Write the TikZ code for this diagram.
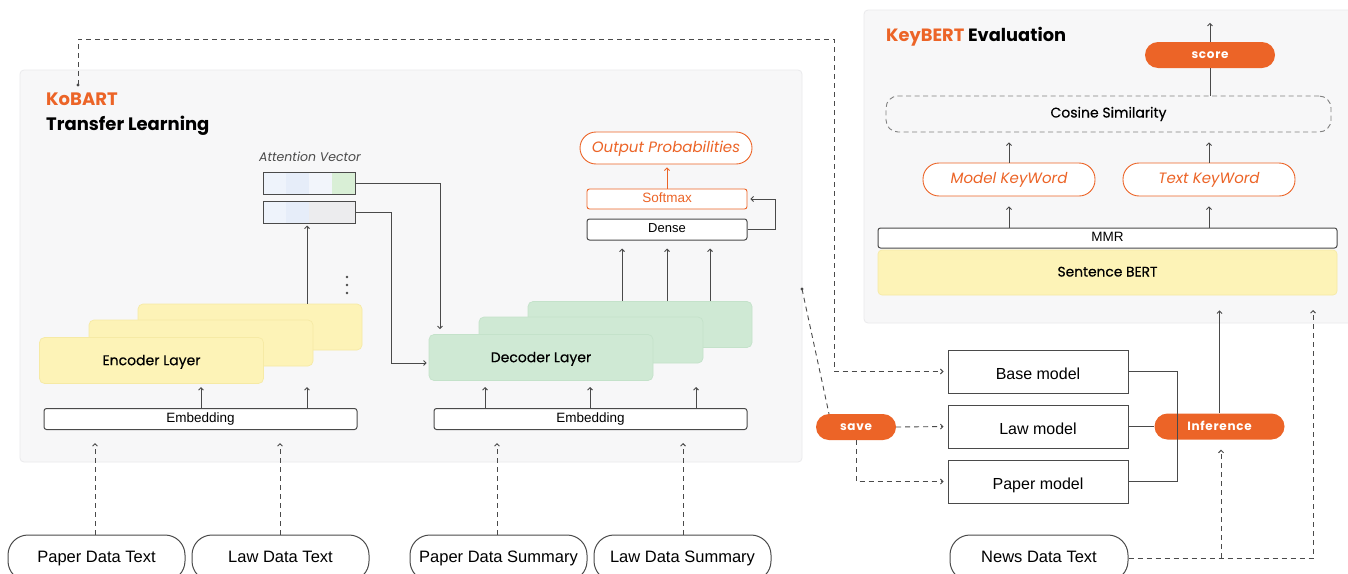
\documentclass[tikz,border=0pt]{standalone}
\usepackage{fontspec}
\setmainfont{Liberation Sans}
\newfontfamily\pop{Poppins}
\newfontfamily\popm[FakeBold=0.45]{Poppins}
\usetikzlibrary{arrows.meta,calc}
\definecolor{org}{HTML}{EC6427}
\definecolor{dk}{HTML}{4A4A4A}
\definecolor{panelfill}{HTML}{F7F7F8}
\definecolor{panelborder}{HTML}{EAEAEC}
\definecolor{encfill}{HTML}{FDF3B7}
\definecolor{encborder}{HTML}{F6EAA5}
\definecolor{decfill}{HTML}{CFE9D4}
\definecolor{decborder}{HTML}{C4E2CA}
\definecolor{ca}{HTML}{EEF3FB}
\definecolor{cb}{HTML}{E6EDF9}
\definecolor{cc}{HTML}{F2F5FB}
\definecolor{cd}{HTML}{D9EFD6}
\definecolor{ce}{HTML}{ECECEE}
\tikzset{
  panel/.style={draw=panelborder, fill=panelfill, rounded corners=4pt, line width=0.8pt, inner sep=0},
  enclayer/.style={fill=encfill, draw=encborder, rounded corners=5pt, minimum width=224pt, minimum height=46pt, inner sep=0, line width=0.7pt, font=\popm\fontsize{14}{16}\selectfont, text depth=1pt},
  declayer/.style={fill=decfill, draw=decborder, rounded corners=5pt, minimum width=224pt, minimum height=46pt, inner sep=0, line width=0.7pt, font=\popm\fontsize{14}{16}\selectfont, text depth=1pt},
  wbox/.style={draw=dk, fill=white, rounded corners=2.5pt, line width=1pt, inner sep=0, text height=9pt, text depth=2.5pt},
  modelbox/.style={draw=dk, fill=white, line width=1pt, inner sep=0, minimum width=180pt, minimum height=43pt, font=\fontsize{16}{18}\selectfont, text height=15pt, text depth=0pt},
  inpill/.style={draw=dk, fill=white, line width=1pt, inner sep=0, rounded corners=20pt, minimum width=177pt, minimum height=46pt, font=\fontsize{16.5}{19}\selectfont, text height=12pt, text depth=3.5pt},
  opill/.style={draw=org, fill=white, line width=0.9pt, inner sep=0, rounded corners=16pt, text=org, font=\pop\itshape\fontsize{15}{18}\selectfont, text height=11pt, text depth=3pt},
  fpill/.style={fill=org, inner sep=0, rounded corners=13pt, minimum height=26pt, text=white, font=\pop\bfseries\fontsize{12}{14}\selectfont\addfontfeatures{LetterSpace=6}, text height=9pt, text depth=2pt},
  arr/.style={draw=dk, line width=0.9pt, -{Straight Barb[length=2.5pt,width=5pt]}},
  dsh/.style={draw=dk, line width=0.9pt, dash pattern=on 5pt off 4pt},
}
\begin{document}
\begin{tikzpicture}[x=1pt,y=-1pt]
\useasboundingbox (0,0) rectangle (1348,573);
\clip (0,0) rectangle (1348,573);
\fill[white] (0,0) rectangle (1348,573);

% panels
\node[panel, minimum width=782pt, minimum height=392pt] (lp) at (411,266) {};
\node[panel, minimum width=490pt, minimum height=313pt] (rp) at (1109,166.5) {};

% titles
\node[anchor=west, inner sep=0, font=\pop\bfseries\fontsize{18}{20}\selectfont, text=org] (kobart) at (46,99) {KoBART};
\node[anchor=west, inner sep=0, font=\pop\bfseries\fontsize{18}{20}\selectfont] (tl) at (46,126) {Transfer Learning};
\node[anchor=west, inner sep=0, font=\pop\bfseries\fontsize{17.8}{20}\selectfont] (kbt) at (886,37) {\textcolor{org}{KeyBERT} Evaluation};

% encoder stack
\node[enclayer] (enc3) at (250,327) {};
\node[enclayer] (enc2) at (201,343) {};
\node[enclayer] (enc1) at (151.5,360.5) {Encoder Layer};
\fill[dk] (347,277) circle (1.4pt) (347,285) circle (1.4pt) (347,293) circle (1.4pt);

% decoder stack
\node[declayer] (dec3) at (640,324.5) {};
\node[declayer] (dec2) at (591,340) {};
\node[declayer] (dec1) at (541,357.5) {Decoder Layer};

% embeddings
\node[wbox, minimum width=313pt, minimum height=21pt, font=\fontsize{13.5}{15}\selectfont] (embL) at (200.5,419) {Embedding};
\node[wbox, minimum width=313pt, minimum height=21pt, font=\fontsize{13.5}{15}\selectfont] (embR) at (590.5,419) {Embedding};

% attention vectors
\fill[ca] (263,172) rectangle (286,194);
\fill[cb] (286,172) rectangle (309,194);
\fill[cc] (309,172) rectangle (332,194);
\fill[cd] (332,172) rectangle (355,194);
\fill[ca] (263,201) rectangle (286,223);
\fill[cb] (286,201) rectangle (309,223);
\fill[ce] (309,201) rectangle (355,223);
\node[draw=dk, line width=1pt, minimum width=92pt, minimum height=22pt, inner sep=0] (av1) at (309,183) {};
\node[draw=dk, line width=1pt, minimum width=92pt, minimum height=22pt, inner sep=0] (av2) at (309,212) {};
\node[font=\pop\itshape\fontsize{12.5}{14}\selectfont, text=dk, inner sep=0] (avl) at (310,157) {Attention Vector};

% dense / softmax / output
\node[wbox, minimum width=160pt, minimum height=21pt, font=\fontsize{13}{15}\selectfont] (dense) at (667,229.5) {Dense};
\node[draw=org, fill=white, rounded corners=2.5pt, line width=0.9pt, inner sep=0, minimum width=160pt, minimum height=20pt, text=org, font=\fontsize{13.5}{15}\selectfont, text height=9.5pt, text depth=2.5pt] (softmax) at (667,199) {Softmax};
\node[opill, minimum width=172pt, minimum height=32pt] (outp) at (666,148) {Output Probabilities};

% connectors left
\draw[arr] (embL.north -| 201,0) -- ++(0,-21);
\draw[arr] (embL.north -| 307,0) -- ++(0,-21);
\draw[arr] (embR.north -| 485,0) -- ++(0,-21);
\draw[arr] (embR.north -| 590,0) -- ++(0,-21);
\draw[arr] (embR.north -| 696,0) -- ++(0,-21);
\draw[arr, shorten >=2pt] (enc3.north -| 307,0) -- (av2.south -| 307,0);
\draw[arr, shorten >=5pt] (av1.east) -| (dec1.north -| 440,0);
\draw[arr, shorten >=2pt] (av2.east) -- (391,212) |- ([yshift=-5.5pt]dec1.west);
\draw[arr, shorten >=8pt] (dec3.north -| 622,0) -- (dense.south -| 622,0);
\draw[arr, shorten >=8pt] (dec3.north -| 667,0) -- (dense.south -| 667,0);
\draw[arr, shorten >=8pt] (dec3.north -| 710,0) -- (dense.south -| 710,0);
\draw[arr, shorten >=3pt] (dense.east) -- ++(28,0) |- (softmax.east);
\draw[arr, draw=org, shorten >=3pt] (softmax.north) -- (softmax.north |- outp.south);

% inputs
\node[inpill] (ptext) at (96.5,558) {Paper Data Text};
\node[inpill] (ltext) at (280.5,558) {Law Data Text};
\node[inpill] (psum) at (498.5,558) {Paper Data Summary};
\node[inpill] (lsum) at (682.5,558) {Law Data Summary};
\draw[arr, dsh] (ptext.north -| 95,0) -- (95,443);
\draw[arr, dsh] (ltext.north -| 280,0) -- (280,443);
\draw[arr, dsh] (psum.north -| 497,0) -- (497,443);
\draw[arr, dsh] (lsum.north -| 683,0) -- (683,443);

% KeyBERT panel
\node[fpill, minimum width=130pt] (score) at (1210,55) {score};
\node[draw=dk!70, dash pattern=on 5pt off 3.5pt, line width=0.9pt, rounded corners=12pt, minimum width=445pt, minimum height=36pt, inner sep=0, font=\popm\fontsize{14}{16}\selectfont, text height=10pt, text depth=3pt] (cos) at (1108.5,114) {Cosine Similarity};
\node[opill, minimum width=172pt, minimum height=33pt] (mkw) at (1009,179.5) {Model KeyWord};
\node[opill, minimum width=172pt, minimum height=33pt] (tkw) at (1209,179.5) {Text KeyWord};
\node[fill=encfill, draw=encborder, rounded corners=4pt, line width=0.7pt, minimum width=459pt, minimum height=45pt, inner sep=0, font=\popm\fontsize{13.8}{15}\selectfont, text height=10pt, text depth=2pt] (sbert) at (1107.5,272.5) {Sentence BERT};
\node[wbox, minimum width=459pt, minimum height=20pt, font=\fontsize{13.5}{15}\selectfont] (mmr) at (1107.5,238) {MMR};
\draw[draw=dk, line width=0.9pt] (cos.north -| score.center) -- (score.south);
\draw[arr] (score.north) -- ++(0,-19);
\draw[arr, shorten >=10pt] (mmr.north -| mkw.south) -- (mkw.south);
\draw[arr, shorten >=10pt] (mmr.north -| tkw.south) -- (tkw.south);
\draw[arr, shorten >=10pt] (mkw.north) -- (mkw.north |- cos.south);
\draw[arr, shorten >=10pt] (tkw.north) -- (tkw.north |- cos.south);

% models
\node[modelbox] (base) at (1038,371.5) {Base model};
\node[modelbox] (law) at (1038,426.5) {Law model};
\node[modelbox] (paper) at (1038,481.5) {Paper model};
\node[inpill, minimum width=178pt] (news) at (1039,558) {News Data Text};
\node[fpill, minimum width=80pt] (save) at (856,427) {save};
\node[fpill, minimum width=130pt] (inf) at (1219.5,426.5) {Inference};

\draw[draw=dk, line width=1pt] (base.east) -- ++(49,0) |- (paper.east);
\draw[draw=dk, line width=1pt] (law.east) -- (inf.west);
\draw[arr, shorten >=15pt] (inf.north) -- (inf.north |- sbert.south);
\coordinate (rin) at (1313,310);
\draw[arr, dsh] (news.east) -- (rin |- news.east) -- (rin);
\draw[arr, dsh, shorten >=10pt] (news.east -| 1221,0) -- (inf.south -| 1221,0);
\draw[arr, dsh, shorten >=4pt] (save.east) -- (law.west);
\draw[arr, dsh, shorten >=4pt] (save.south) |- (paper.west);
\coordinate (sdot) at (802,289);
\fill[dk] (sdot) circle (1.6pt);
\draw[dsh] (sdot) -- ([xshift=-27pt]save.north);
\coordinate (kdot) at (78,85);
\fill[dk] (kdot) circle (1.6pt);
\draw[arr, dsh, shorten >=4pt] (kdot) -- (78,39) -- (834,39) |- (base.west);
\end{tikzpicture}
\end{document}
